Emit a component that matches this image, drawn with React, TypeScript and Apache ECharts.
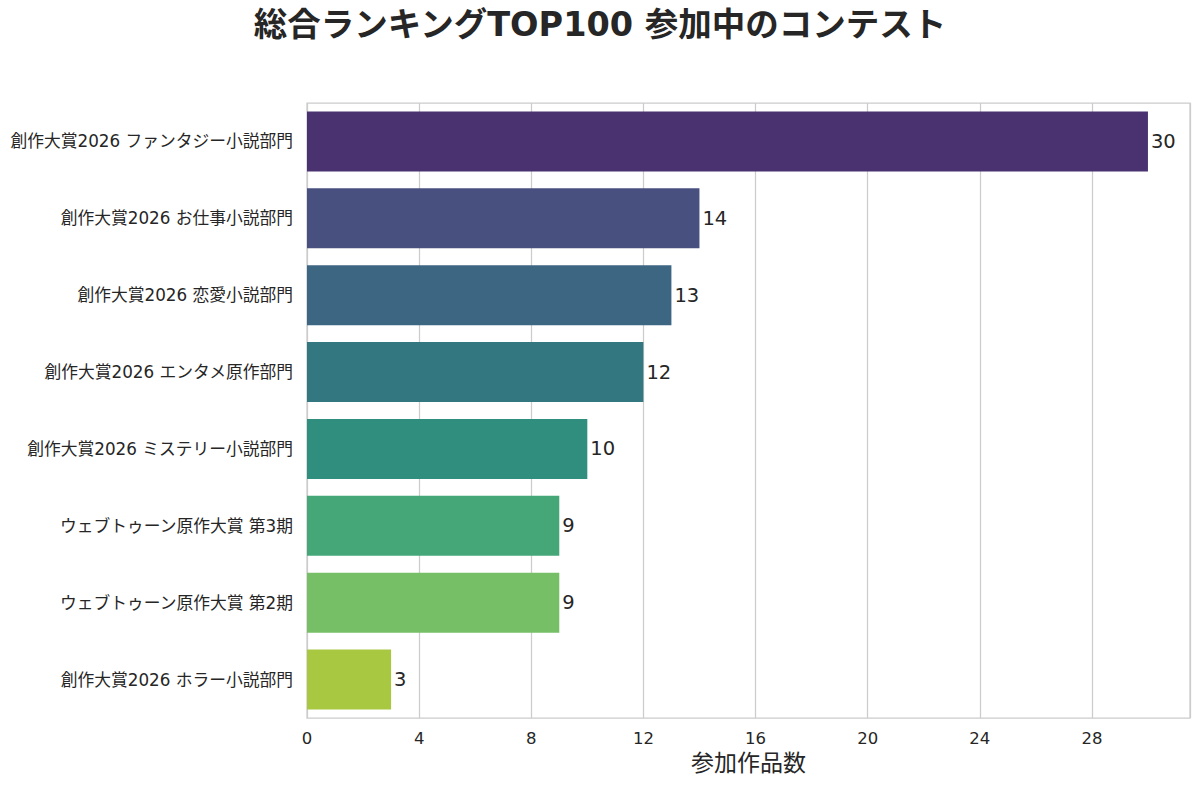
import React, { useEffect, useRef } from "react";
import * as echarts from "echarts";

const categories = [
  "創作大賞2026 ファンタジー小説部門",
  "創作大賞2026 お仕事小説部門",
  "創作大賞2026 恋愛小説部門",
  "創作大賞2026 エンタメ原作部門",
  "創作大賞2026 ミステリー小説部門",
  "ウェブトゥーン原作大賞 第3期",
  "ウェブトゥーン原作大賞 第2期",
  "創作大賞2026 ホラー小説部門",
];
const values = [30, 14, 13, 12, 10, 9, 9, 3];
const barColors = [
  "#4a3270",
  "#47507f",
  "#3d6682",
  "#337881",
  "#2f8e7e",
  "#45a778",
  "#77bf67",
  "#a9c841",
];
const titleText = "総合ランキングTOP100 参加中のコンテスト";
const xAxisName = "参加作品数";

const FONT = '"DejaVu Sans", "Noto Sans CJK JP", sans-serif';
const TEXT = "#262626";

export default function App() {
  const ref = useRef<HTMLDivElement>(null);
  useEffect(() => {
    document.body.style.margin = "0";
    if (!ref.current) return;
    const chart = echarts.init(ref.current, undefined, { renderer: "svg" });
    chart.setOption({
      animation: false,
      backgroundColor: "#ffffff",
      textStyle: { fontFamily: FONT },
      title: {
        text: titleText,
        left: "center",
        top: 3,
        textStyle: {
          fontFamily: FONT,
          fontSize: 33.5,
          fontWeight: "bold",
          color: TEXT,
        },
      },
      grid: {
        left: 307,
        right: 10,
        top: 103,
        bottom: 67,
        show: true,
        borderColor: "#cccccc",
        borderWidth: 1.25,
        backgroundColor: "#ffffff",
        containLabel: false,
      },
      xAxis: {
        type: "value",
        min: 0,
        max: 31.5,
        interval: 4,
        name: xAxisName,
        nameLocation: "middle",
        nameGap: 33,
        nameTextStyle: { fontFamily: FONT, fontSize: 23, color: TEXT },
        axisLine: { show: false },
        axisTick: { show: false },
        axisLabel: {
          showMaxLabel: false,
          fontFamily: FONT,
          fontSize: 16.5,
          color: TEXT,
          margin: 12,
        },
        splitLine: {
          show: true,
          lineStyle: { color: "#cccccc", width: 1.25 },
        },
      },
      yAxis: {
        type: "category",
        data: categories,
        inverse: true,
        axisLine: { show: false },
        axisTick: { show: false },
        splitLine: { show: false },
        axisLabel: {
          fontFamily: FONT,
          fontSize: 16.75,
          color: TEXT,
          margin: 14,
        },
      },
      series: [
        {
          type: "bar",
          barWidth: "78%",
          data: values.map((v, i) => ({
            value: v,
            itemStyle: { color: barColors[i] },
          })),
          label: {
            show: true,
            position: "right",
            distance: 3,
            fontFamily: FONT,
            fontSize: 19.5,
            color: TEXT,
          },
        },
      ],
    });
    return () => chart.dispose();
  }, []);
  return <div ref={ref} style={{ width: 1200, height: 785 }} />;
}
